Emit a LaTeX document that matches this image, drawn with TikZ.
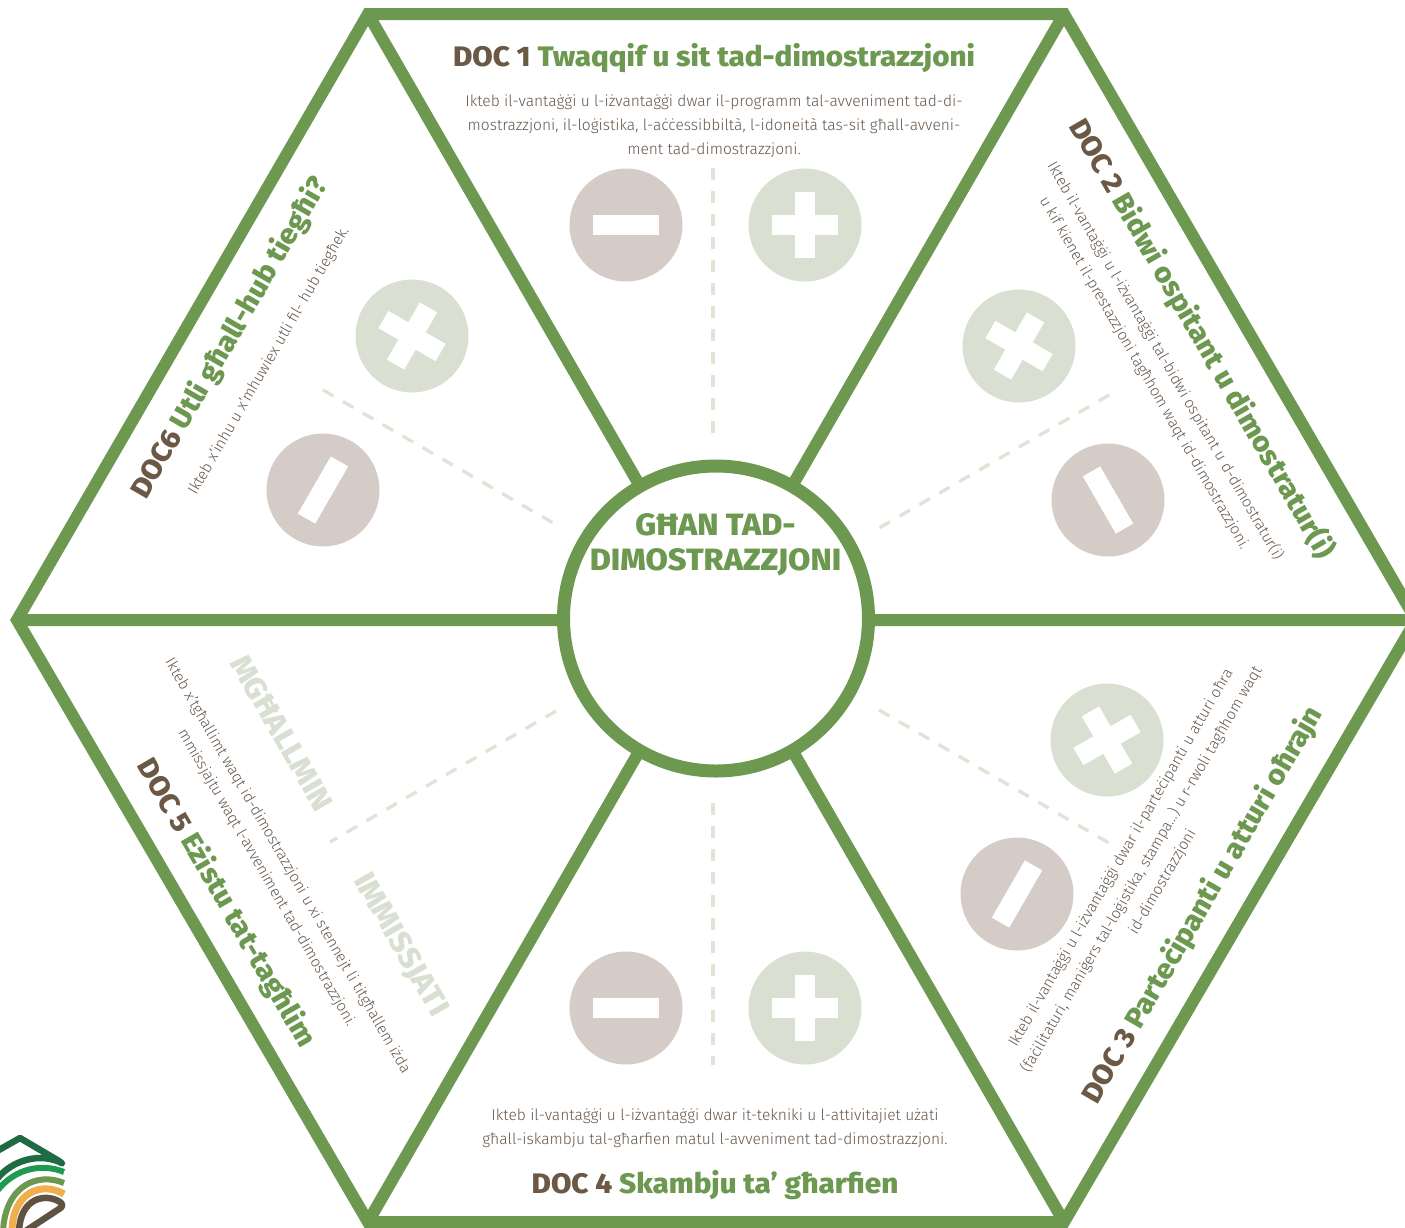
\documentclass[tikz,border=0pt]{standalone}
\usepackage{fontspec}
\setmainfont{Fira Sans Light}[BoldFont={Fira Sans Bold}]
\newfontfamily\headfont{Fira Sans}[BoldFont={Fira Sans ExtraBold},FakeStretch=1.05]
\definecolor{hexgreen}{HTML}{6C9850}
\definecolor{docbrown}{HTML}{6B5845}
\definecolor{bodybrown}{HTML}{66574B}
\definecolor{paleplus}{HTML}{D9E0D1}
\definecolor{paleminus}{HTML}{D5CCC7}
\definecolor{dashcol}{HTML}{DFE4D6}
\definecolor{logodark}{HTML}{1F6B43}
\definecolor{logobright}{HTML}{1F9A50}
\definecolor{logoolive}{HTML}{6C9850}
\definecolor{logoorange}{HTML}{F0AE4C}
\definecolor{logobrown}{HTML}{5F5243}
\tikzset{
  hexline/.style={draw=hexgreen,line width=12pt,line join=miter},
  hubnode/.style={circle,draw=hexgreen,line width=13pt,fill=white,minimum size=305pt,inner sep=0pt},
  dashline/.style={draw=dashcol,line width=3.3pt,dash pattern=on 12pt off 11pt},
  pluscirc/.style={circle,fill=paleplus,minimum size=113pt,inner sep=0pt},
  minuscirc/.style={circle,fill=paleminus,minimum size=113pt,inner sep=0pt},
  bar/.style={fill=white,inner sep=0pt,minimum width=66pt,minimum height=20pt},
  crossbar/.style={fill=white,inner sep=0pt,minimum width=20pt,minimum height=66pt},
  titletext/.style={inner sep=0pt,font=\headfont\bfseries\fontsize{28.2}{32}\selectfont},
  bodytext/.style={inner sep=0pt,align=center,text=bodybrown,font=\fontsize{15.3}{24}\selectfont},
  bodywide/.style={bodytext,font=\fontsize{15.55}{24}\selectfont},
  paletext/.style={inner sep=0pt,text=paleplus,font=\headfont\bfseries\fontsize{30.3}{34}\selectfont},
  logoline/.style={line cap=round,line join=round}
}
\newcommand{\plusmark}[4]{%
  \node[pluscirc] (#1) at (#2,#3) {};
  \node[bar,rotate=#4] (#1h) at (#1.center) {};
  \node[crossbar,rotate=#4] (#1v) at (#1.center) {};
}
\newcommand{\minusmark}[4]{%
  \node[minuscirc] (#1) at (#2,#3) {};
  \node[bar,rotate=#4] (#1h) at (#1.center) {};
}
\newcommand{\dochead}[2]{\textcolor{docbrown}{#1} \textcolor{hexgreen}{#2}}
\begin{document}
\begin{tikzpicture}[x=1pt,y=-1pt]
\useasboundingbox (0,0) rectangle (1405,1227);
\clip (0,0) rectangle (1405,1227);
\fill[white] (0,0) rectangle (1405,1227);
% vertices
\coordinate (v1) at (368,14);
\coordinate (v2) at (1064,14);
\coordinate (v3) at (1416,620);
\coordinate (v4) at (1064,1222);
\coordinate (v5) at (368,1222);
\coordinate (v6) at (17,620);
\coordinate (hubc) at (716,618.5);
\draw[hexline] (v1) -- (v2) -- (v3) -- (v4) -- (v5) -- (v6) -- cycle;
\draw[hexline] (v1) -- (v4) (v2) -- (v5) (v6) -- (v3);
\node[hubnode] (hub) at (hubc) {};
\node[inner sep=0pt,align=center,text=hexgreen,font=\headfont\bfseries\fontsize{30.8}{35}\selectfont] (hubtext) at (715.5,545) {GĦAN TAD-\\DIMOSTRAZZJONI};
% dashed separators
\coordinate (d1a) at (713,168); \coordinate (d1b) at (713,433);
\coordinate (d2a) at (1109,395); \coordinate (d2b) at (879,528);
\coordinate (d3a) at (879,710); \coordinate (d3b) at (1109,843);
\coordinate (d4a) at (713,803); \coordinate (d4b) at (713,1065);
\coordinate (d5a) at (556,711); \coordinate (d5b) at (330,842);
\coordinate (d6a) at (323,390); \coordinate (d6b) at (555,524);
\foreach \a/\b in {d1a/d1b,d2a/d2b,d3a/d3b,d4a/d4b,d5a/d5b,d6a/d6b} \draw[dashline] (\a) -- (\b);
% marks
\minusmark{m1}{626}{225}{0}
\plusmark{p1}{805}{225}{0}
\plusmark{p2}{1019}{346}{60}
\minusmark{m2}{1108}{500}{-60}
\plusmark{p3}{1107}{740}{-60}
\minusmark{m3}{1017}{894}{60}
\minusmark{m4}{626}{1008}{0}
\plusmark{p4}{805}{1008}{0}
\plusmark{p6}{412}{336}{60}
\minusmark{m6}{323}{490}{60}
% DOC 1
\node[titletext] (t1) at (714,58) {\dochead{DOC 1}{Twaqqif u sit tad-dimostrazzjoni}};
\node[bodywide] (b1) at (714,126) {Ikteb il-vantaġġi u l-iżvantaġġi dwar il-programm tal-avveniment tad-di-\\mostrazzjoni, il-loġistika, l-aċċessibbiltà, l-idoneità tas-sit għall-avveni-\\ment tad-dimostrazzjoni.};
% DOC 2
\node[titletext,rotate=-60] (t2) at (1202,339) {\dochead{DOC 2}{Bidwi ospitant u dimostratur(i)}};
\node[bodytext,rotate=-60] (b2) at (1155,367) {Ikteb il-vantaġġi u l-iżvantaġġi tal-bidwi ospitant u d-dimostratur(i)\\u kif kienet il-prestazzjoni tagħhom waqt id-dimostrazzjoni.};
% DOC 3
\node[titletext,rotate=60] (t3) at (1203,905) {\dochead{DOC 3}{Parteċipanti u atturi oħrajn}};
\node[bodytext,rotate=60] (b3) at (1142,870) {Ikteb il-vantaġġi u l-iżvantaġġi dwar il-parteċipanti u atturi oħra\\(faċilitaturi, maniġers tal-loġistika, stampa…) u r-rwoli tagħhom waqt\\id-dimostrazzjoni};
% DOC 4
\node[titletext] (t4) at (715,1185) {\dochead{DOC 4}{Skambju ta’ għarfien}};
\node[bodywide] (b4) at (715,1128) {Ikteb il-vantaġġi u l-iżvantaġġi dwar it-tekniki u l-attivitajiet użati\\għall-iskambju tal-għarfien matul l-avveniment tad-dimostrazzjoni.};
% DOC 5
\node[titletext,rotate=-60] (t5) at (226,903) {\dochead{DOC 5}{Eżistu tat-tagħlim}};
\node[bodytext,rotate=-60] (b5) at (277,872) {Ikteb x’tgħallimt waqt id-dimostrazzjoni u xi stennejt li titgħallem iżda\\mmissjajtu waqt l-avveniment tad-dimostrazzjoni.};
\node[paletext,rotate=-60] (mg) at (282,733) {MGĦALLMIN};
\node[paletext,rotate=-60] (im) at (400,945) {IMMISSJATI};
% DOC 6
\node[titletext,rotate=60] (t6) at (230,338) {\dochead{DOC6}{Utli għall-hub tiegħi?}};
\node[bodytext,rotate=60] (b6) at (269,361) {Ikteb x’inhu u x’mhuwiex utli fil- hub tiegħek.};
% logo
\draw[logoline,line width=6.5pt,draw=logodark] (-3,1151) -- (20,1138) -- (59,1161) .. controls (62,1163) and (63,1165) .. (62,1163) .. controls (40,1152) and (12,1160) .. (-3,1179);
\draw[line width=6pt,draw=logobright] (64,1172) .. controls (42,1163) and (15,1168) .. (-3,1191);
\draw[line width=6pt,draw=logoolive] (64,1183) .. controls (38,1172) and (5,1185) .. (3,1232);
\draw[line width=7pt,draw=logoorange] (64,1194) .. controls (42,1181) and (12,1192) .. (12,1232);
\draw[logoline,line width=6.5pt,draw=logobrown] (24,1232) -- (59,1209) .. controls (63,1207) and (63,1204) .. (60,1202) .. controls (46,1193) and (20,1197) .. (19,1232);
\end{tikzpicture}
\end{document}
